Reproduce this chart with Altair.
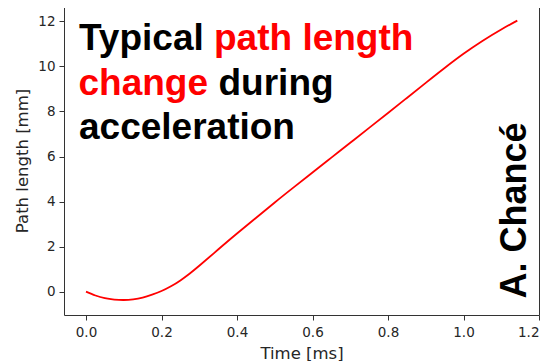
import altair as alt
import pandas as pd

# Data
time_ms = [0.0, 0.025, 0.05, 0.075, 0.1, 0.125, 0.15, 0.175, 0.2, 0.225, 0.25,
           0.275, 0.3, 0.35, 0.4, 0.45, 0.5, 0.55, 0.6, 0.65, 0.7, 0.75, 0.8, 0.85,
           0.9, 0.95, 1.0, 1.05, 1.1, 1.1425]
path_mm = [0.0, -0.17, -0.29, -0.35, -0.37, -0.34, -0.26, -0.13, 0.03, 0.24, 0.5,
           0.81, 1.15, 1.87, 2.58, 3.27, 3.96, 4.63, 5.29, 5.95, 6.61, 7.27, 7.93, 8.6,
           9.27, 9.93, 10.56, 11.13, 11.64, 12.03]

x_ticks = [0.0, 0.2, 0.4, 0.6, 0.8, 1.0, 1.2]
y_ticks = [0, 2, 4, 6, 8, 10, 12]

# Annotation texts: (text, colour, x px, y px baseline)
notes_text = ["Typical", "path length", "change", "during", "acceleration"]
notes_color = ["#000000", "#ff0000", "#ff0000", "#000000", "#000000"]
notes_x = [15, 150, 14.5, 154.5, 15]
notes_y = [44, 44, 88.5, 88.5, 133]

author = "A. Chancé"

df = pd.DataFrame({"t": time_ms, "y": path_mm})

line = alt.Chart(df).mark_line(color="#ff0000", strokeWidth=1.8, interpolate="natural").encode(
    x=alt.X("t:Q", title="Time [ms]",
            scale=alt.Scale(domain=[-0.0583, 1.2], nice=False, zero=False),
            axis=alt.Axis(values=x_ticks, format=".1f", titleY=43, titleBaseline="alphabetic",
                          labelPadding=5)),
    y=alt.Y("y:Q", title="Path length [mm]",
            scale=alt.Scale(domain=[-1.035, 12.68], nice=False, zero=False),
            axis=alt.Axis(values=y_ticks, format="d", titleX=-37, titleBaseline="alphabetic",
                          labelPadding=4)),
)

layers = [line]
for txt, col, px, py in zip(notes_text, notes_color, notes_x, notes_y):
    layers.append(
        alt.Chart(pd.DataFrame({"label": [txt]})).mark_text(
            font="Liberation Sans", fontWeight="bold", fontSize=37, color=col,
            align="left", baseline="alphabetic"
        ).encode(text="label:N", x=alt.value(px), y=alt.value(py))
    )

layers.append(
    alt.Chart(pd.DataFrame({"label": [author]})).mark_text(
        font="Liberation Sans", fontWeight="bold", fontSize=36, color="#000000",
        align="center", baseline="alphabetic", angle=270
    ).encode(text="label:N", x=alt.value(462), y=alt.value(204.5))
)

chart = alt.layer(*layers).properties(
    width=475, height=309,
    autosize=alt.AutoSizeParams(type="none"),
    padding={"left": 56, "top": -2, "right": 3, "bottom": 46},
).configure_view(
    stroke="#333333", strokeWidth=1
).configure_axis(
    grid=False, domain=False,
    tickColor="#333333", tickSize=5, tickWidth=1,
    labelFont="DejaVu Sans", labelFontSize=13.5, labelColor="#262626",
    titleFont="DejaVu Sans", titleFontSize=16.5, titleColor="#262626",
    titleFontWeight="normal",
)

chart.save("out.html", embed_options={"renderer": "svg", "actions": False})
